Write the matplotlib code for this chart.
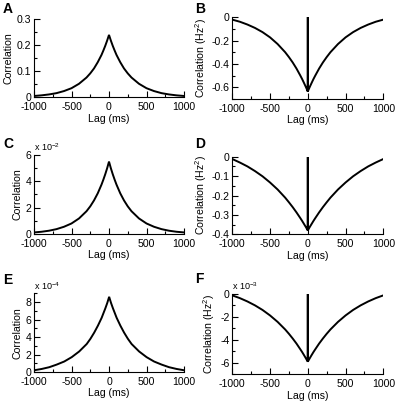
import numpy as np
import matplotlib
matplotlib.use("Agg")
import matplotlib.pyplot as plt
from matplotlib.ticker import MultipleLocator, FuncFormatter

plt.rcParams["font.family"] = ["Liberation Sans", "DejaVu Sans"]
plt.rcParams["axes.unicode_minus"] = False
plt.rcParams["mathtext.fontset"] = "custom"
plt.rcParams["mathtext.rm"] = "Liberation Sans"
plt.rcParams["mathtext.it"] = "Liberation Sans"

# lags (ms) for one side of each symmetric correlation curve
half_lags = [0, 25, 50, 75, 100, 150, 200, 250, 300, 400, 500, 600, 700, 800, 900, 1000]

# left column: auto-correlations (peak at lag 0)
corr_a = [0.240, 0.218, 0.198, 0.180, 0.163, 0.135, 0.111, 0.092, 0.076, 0.052,
          0.035, 0.024, 0.016, 0.011, 0.0075, 0.0051]
corr_c = [5.50e-2, 4.99e-2, 4.54e-2, 4.13e-2, 3.75e-2, 3.09e-2, 2.55e-2, 2.10e-2,
          1.73e-2, 1.18e-2, 0.80e-2, 0.55e-2, 0.37e-2, 0.25e-2, 0.17e-2, 0.12e-2]
corr_e = [8.6e-4, 7.9e-4, 7.3e-4, 6.75e-4, 6.2e-4, 5.3e-4, 4.5e-4, 3.8e-4, 3.2e-4,
          2.35e-4, 1.7e-4, 1.2e-4, 0.85e-4, 0.55e-4, 0.35e-4, 0.2e-4]

# right column: correlations in Hz^2 (cusp at lag 0 plus off-scale spike)
corr_b = [-0.635, -0.598, -0.563, -0.529, -0.498, -0.439, -0.387, -0.341, -0.299, -0.229,
          -0.172, -0.127, -0.091, -0.062, -0.038, -0.020]
corr_d = [-0.380, -0.363, -0.347, -0.331, -0.316, -0.287, -0.260, -0.235, -0.211, -0.169,
          -0.133, -0.101, -0.074, -0.050, -0.030, -0.012]
corr_f = [-5.90e-3, -5.61e-3, -5.33e-3, -5.06e-3, -4.81e-3, -4.32e-3, -3.88e-3, -3.47e-3,
          -3.09e-3, -2.43e-3, -1.87e-3, -1.39e-3, -0.99e-3, -0.65e-3, -0.36e-3, -0.12e-3]
spike_b, spike_d, spike_f = 1.0, 1.0, 1.0e-2


def mirror(vals, spike=None):
    h = np.asarray(half_lags, float)
    v = np.asarray(vals, float)
    if spike is None:
        return np.r_[-h[:0:-1], h], np.r_[v[:0:-1], v]
    return (np.r_[-h[:0:-1], 0, 0, 0, h[1:]],
            np.r_[v[:0:-1], v[0], spike, v[0], v[1:]])


W, H = 397, 404
fig = plt.figure(figsize=(W / 100, H / 100), dpi=100)


def box(left, top, right, bottom):
    return [left / W, 1 - bottom / H, (right - left) / W, (bottom - top) / H]


panels = [
    # letter, values, spike, rect, ylim, major, minor, scale, exponent, right column, letter pos
    ("A", corr_a, None, box(34, 19.3, 184, 97.3), (0, 0.3), 0.1, 0.05, 1, None, False, (3, 2)),
    ("B", corr_b, spike_b, box(232.3, 17.3, 383.3, 99), (-0.7, 0), 0.2, 0.1, 1, None, True, (195, 2)),
    ("C", corr_c, None, box(34, 155, 184, 234), (0, 0.06), 0.02, 0.01, 1e-2, -2, False, (3, 137)),
    ("D", corr_d, spike_d, box(232.3, 156.7, 383.3, 234.3), (-0.4, 0), 0.1, 0.05, 1, None, True, (195, 137)),
    ("E", corr_e, None, box(34.3, 293.3, 184, 372), (0, 9e-4), 2e-4, 1e-4, 1e-4, -4, False, (3, 273)),
    ("F", corr_f, spike_f, box(232.3, 294, 383.3, 374.3), (-7e-3, 0), 2e-3, 1e-3, 1e-3, -3, True, (195, 272)),
]

fs = 7.6
for letter, vals, spike, rect, ylim, major, minor, scale, expo, right, lpos in panels:
    ax = fig.add_axes(rect)
    x, y = mirror(vals, spike)
    ax.plot(x, y, color="black", lw=1.4, solid_joinstyle="miter")
    ax.set_xlim(-1000, 1000)
    ax.set_ylim(*ylim)
    ax.spines["top"].set_visible(False)
    ax.spines["right"].set_visible(False)
    for s in ("left", "bottom"):
        ax.spines[s].set_linewidth(0.8)
    ax.xaxis.set_major_locator(MultipleLocator(500))
    ax.xaxis.set_minor_locator(MultipleLocator(250))
    ax.yaxis.set_major_locator(MultipleLocator(major))
    ax.yaxis.set_minor_locator(MultipleLocator(minor))
    ax.yaxis.set_major_formatter(FuncFormatter(lambda v, p, s=scale: f"{round(v / s, 6) + 0.0:g}"))
    ax.tick_params(which="both", direction="in", labelsize=fs, width=0.8)
    ax.tick_params(which="major", length=4)
    ax.tick_params(which="minor", length=2.5)
    ax.tick_params(axis="x", pad=3.5)
    ax.tick_params(axis="y", pad=2)
    ax.set_xlabel("Lag (ms)", fontsize=fs, labelpad=1)
    if right:
        ax.set_ylabel(r"Correlation (Hz$^2$)", fontsize=fs, labelpad=2)
    else:
        ax.set_ylabel("Correlation", fontsize=fs, labelpad=2)
    if expo is not None:
        ax.text(0.0, 1.02, rf"x 10$^{{{expo}}}$", transform=ax.transAxes,
                fontsize=6.5, ha="left", va="bottom")
    fig.text(lpos[0] / W, 1 - lpos[1] / H, letter,
             fontsize=10, fontweight="bold", ha="left", va="top")

fig.savefig("out.png", dpi=100)
